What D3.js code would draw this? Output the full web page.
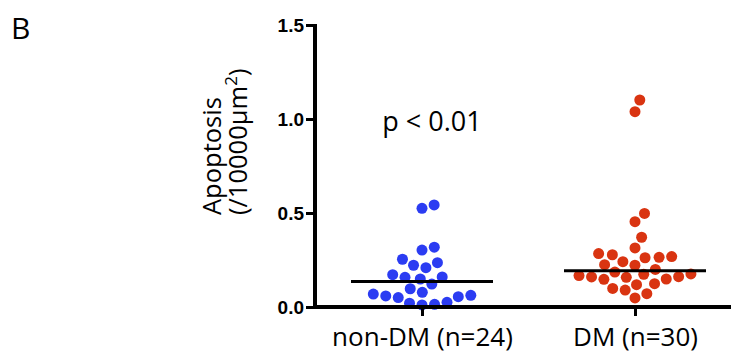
<!DOCTYPE html>
<html>
<head>
<meta charset="utf-8">
<script src="https://cdn.jsdelivr.net/npm/d3@7"></script>
<style>
  body { margin: 0; background: #fff; }
  svg { display: block; }
</style>
</head>
<body>
<svg id="chart"></svg>
<script>
// groups and their values (apoptosis per 10000 um^2)
var groups = ["non-DM (n=24)", "DM (n=30)"];
var nonDM = [0.525, 0.543, 0.318, 0.303, 0.254, 0.209, 0.222, 0.236, 0.160, 0.149, 0.158, 0.172,
             0.122, 0.097, 0.069, 0.059, 0.050, 0.020, 0.011, 0.014, 0.025, 0.055, 0.062, 0.078];
var DM = [1.101, 1.039, 0.498, 0.454, 0.371, 0.314, 0.278, 0.264, 0.262, 0.268, 0.284, 0.241,
          0.225, 0.222, 0.200, 0.186, 0.176, 0.167, 0.158, 0.149, 0.147, 0.160, 0.161, 0.174,
          0.119, 0.124, 0.090, 0.099, 0.071, 0.048];
var yTicks = [0, 0.5, 1.0, 1.5];
var colors = ["#2b3cf2", "#d93411"];

var width = 731, height = 358;
var svg = d3.select("#chart").attr("width", width).attr("height", height);

var plotLeft = 315, plotTop = 25, plotBottom = 307;
var r = 5.5;

var y = d3.scaleLinear().domain([0, 1.5]).range([plotBottom, plotTop]);
var x = d3.scalePoint().domain(groups).range([422, 635]);

// simple greedy beeswarm: place each point as close to the centre as it fits
function swarm(values) {
  var D = 2 * r + 1.6;
  var pts = values.map(function(v) { return { v: v, py: y(v) }; })
    .sort(function(a, b) { return a.v - b.v; });
  var placed = [];
  pts.forEach(function(p) {
    var cands = [0];
    placed.forEach(function(q) {
      var dy = Math.abs(q.py - p.py);
      if (dy < D) {
        var dx = Math.sqrt(D * D - dy * dy);
        cands.push(q.dx + dx, q.dx - dx);
      }
    });
    cands.sort(function(a, b) { return Math.abs(a) - Math.abs(b); });
    for (var i = 0; i < cands.length; i++) {
      var c = cands[i];
      var ok = placed.every(function(q) {
        var dy = q.py - p.py, dx = q.dx - c;
        return dx * dx + dy * dy >= D * D - 0.01;
      });
      if (ok) { p.dx = c; break; }
    }
    placed.push(p);
  });
  return placed;
}

var series = [nonDM, DM];

series.forEach(function(vals, i) {
  var cx = x(groups[i]);
  svg.append("g")
    .selectAll("circle")
    .data(swarm(vals))
    .join("circle")
      .attr("cx", function(d) { return cx + d.dx; })
      .attr("cy", function(d) { return d.py; })
      .attr("r", r)
      .attr("fill", colors[i]);

  // median line
  var med = d3.median(vals);
  svg.append("line")
    .attr("x1", cx - 71).attr("x2", cx + 71)
    .attr("y1", y(med)).attr("y2", y(med))
    .attr("stroke", "#000").attr("stroke-width", 3);
});

// Y axis
var yAxis = svg.append("g")
  .attr("transform", "translate(" + plotLeft + ",0)")
  .call(d3.axisLeft(y).tickValues(yTicks).tickFormat(d3.format(".1f")).tickSize(9).tickPadding(2));
yAxis.select(".domain").attr("stroke-width", 4).attr("d", "M0," + (plotTop - 1) + "V" + (plotBottom + 2));
yAxis.selectAll(".tick line").attr("stroke-width", 3);
yAxis.selectAll(".tick text")
  .attr("font-family", "Liberation Sans, Arial, sans-serif")
  .attr("font-weight", "bold")
  .attr("font-size", 19)
  .attr("fill", "#000");

// X axis
var xAxis = svg.append("g")
  .attr("transform", "translate(0," + plotBottom + ")")
  .call(d3.axisBottom(x).tickSize(9).tickPadding(12));
xAxis.select(".domain").attr("stroke-width", 4).attr("d", "M" + (plotLeft - 2) + ",0H" + width);
xAxis.selectAll(".tick line").attr("stroke-width", 3);
xAxis.selectAll(".tick text")
  .attr("font-family", "Open Sans, sans-serif")
  .attr("font-size", 26)
  .attr("fill", "#000");

// Y axis title, two lines
var yTitle = svg.append("text")
  .attr("transform", "translate(221,215) rotate(-90)")
  .attr("font-family", "Open Sans, sans-serif")
  .attr("font-size", 25.5)
  .attr("fill", "#000");
yTitle.append("tspan").attr("x", 0).attr("y", 0).text("Apoptosis");
var l2 = yTitle.append("tspan").attr("x", 0).attr("y", 26).text("(/10000μm");
l2.append("tspan").attr("font-size", 17).attr("dy", -10).text("2");
l2.append("tspan").attr("dy", 10).text(")");

// p-value annotation
svg.append("text")
  .attr("x", 432).attr("y", 131)
  .attr("text-anchor", "middle")
  .attr("font-family", "Open Sans, sans-serif")
  .attr("font-size", 27)
  .attr("fill", "#000")
  .text("p < 0.01");

// panel letter
svg.append("text")
  .attr("x", 11).attr("y", 39)
  .attr("font-family", "Open Sans, sans-serif")
  .attr("font-size", 30)
  .attr("fill", "#000")
  .text("B");
</script>
</body>
</html>
